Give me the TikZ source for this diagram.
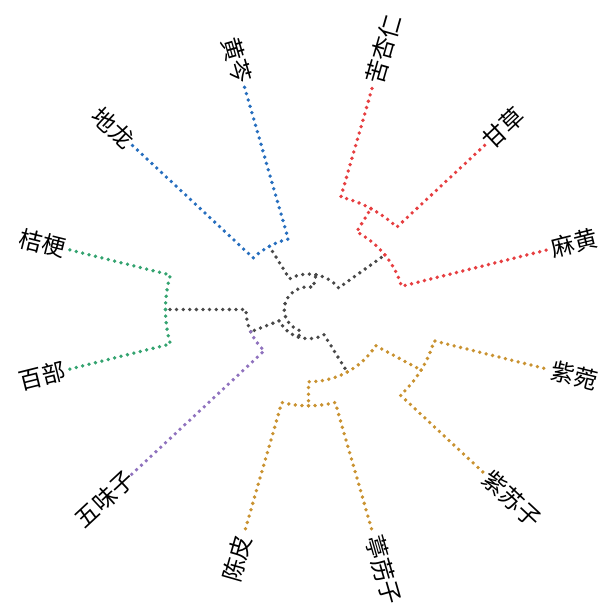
\documentclass[tikz,border=0pt]{standalone}
\usepackage{fontspec}
\newfontfamily\cjk{Noto Sans CJK SC}
\definecolor{cred}{RGB}{230,62,64}
\definecolor{cblue}{RGB}{38,110,190}
\definecolor{cgreen}{RGB}{52,163,112}
\definecolor{cpurple}{RGB}{143,114,190}
\definecolor{cgold}{RGB}{201,146,48}
\definecolor{cgray}{RGB}{72,72,72}
\tikzset{
  dotedge/.style={line width=3.8pt, dash pattern=on 0pt off 6.6pt, line cap=round},
  lab/.style={font=\cjk\fontsize{23.5}{24}\selectfont, inner sep=1.5pt}
}
\newcommand\brch[5]{\draw[dotedge,#5] plot[domain=#1:#3,samples=30] (\x:#2) -- (#4);}
\begin{document}
\begin{tikzpicture}[x=250pt,y=233pt]
\useasboundingbox (-308.5pt,-299.5pt) rectangle (295.5pt,309.5pt);
% merge points
\coordinate (root) at (165:0.097);
\coordinate (rb) at (78.75:0.152);
\coordinate (xx) at (251.25:0.125);
\coordinate (r3) at (37.5:0.385);
\coordinate (r2) at (60:0.50);
\coordinate (bl) at (120:0.313);
\coordinate (gp) at (202.5:0.25);
\coordinate (gr) at (180:0.572);
\coordinate (go) at (300:0.31);
\coordinate (ga) at (330:0.52);
\coordinate (gb) at (270:0.413);
% leaves
\coordinate (l1) at (75:1);
\coordinate (l2) at (45:1);
\coordinate (l3) at (15:1);
\coordinate (l4) at (345:1);
\coordinate (l5) at (315:1);
\coordinate (l6) at (285:1);
\coordinate (l7) at (255:1);
\coordinate (l8) at (225:1);
\coordinate (l9) at (195:1);
\coordinate (l10) at (165:1);
\coordinate (l11) at (135:1);
\coordinate (l12) at (105:1);
% branches
\brch{165}{0.097}{78.75}{rb}{cgray}
\brch{165}{0.097}{251.25}{xx}{cgray}
\brch{78.75}{0.152}{37.5}{r3}{cgray}
\brch{78.75}{0.152}{120}{bl}{cgray}
\brch{37.5}{0.385}{60}{r2}{cred}
\brch{37.5}{0.385}{15}{l3}{cred}
\brch{60}{0.5}{75}{l1}{cred}
\brch{60}{0.5}{45}{l2}{cred}
\brch{120}{0.313}{135}{l11}{cblue}
\brch{120}{0.313}{105}{l12}{cblue}
\brch{251.25}{0.125}{202.5}{gp}{cgray}
\brch{251.25}{0.125}{300}{go}{cgray}
\brch{202.5}{0.25}{180}{gr}{cgray}
\brch{202.5}{0.25}{225}{l8}{cpurple}
\brch{180}{0.572}{165}{l10}{cgreen}
\brch{180}{0.572}{195}{l9}{cgreen}
\brch{300}{0.31}{330}{ga}{cgold}
\brch{300}{0.31}{270}{gb}{cgold}
\brch{330}{0.52}{345}{l4}{cgold}
\brch{330}{0.52}{315}{l5}{cgold}
\brch{270}{0.413}{285}{l6}{cgold}
\brch{270}{0.413}{255}{l7}{cgold}
% labels
\node[lab, anchor=west, rotate=74] (t1) at (l1) {苦杏仁};
\node[lab, anchor=west, rotate=43] (t2) at (l2) {甘草};
\node[lab, anchor=west, rotate=14] (t3) at (l3) {麻黄};
\node[lab, anchor=west, rotate=-14] (t4) at (l4) {紫菀};
\node[lab, anchor=west, rotate=-43] (t5) at (l5) {紫苏子};
\node[lab, anchor=west, rotate=-74] (t6) at (l6) {葶苈子};
\node[lab, anchor=east, rotate=74] (t7) at (l7) {陈皮};
\node[lab, anchor=east, rotate=43] (t8) at (l8) {五味子};
\node[lab, anchor=east, rotate=14] (t9) at (l9) {百部};
\node[lab, anchor=east, rotate=-14] (t10) at (l10) {桔梗};
\node[lab, anchor=east, rotate=-43] (t11) at (l11) {地龙};
\node[lab, anchor=east, rotate=-74] (t12) at (l12) {黄芩};
\end{tikzpicture}
\end{document}
